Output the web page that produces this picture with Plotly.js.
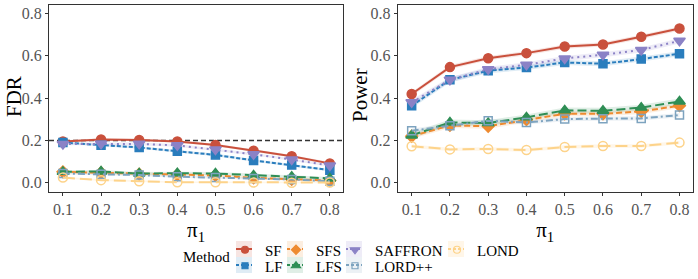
<!DOCTYPE html>
<html>
<head>
<meta charset="utf-8">
<script src="https://cdn.plot.ly/plotly-3.0.1.min.js"></script>
<style>html,body{margin:0;padding:0;background:#fff;}#chart{width:698px;height:279px;}</style>
</head>
<body>
<div id="chart"></div>
<script>
// ---------- data ----------
const pi1 = [0.1, 0.2, 0.3, 0.4, 0.5, 0.6, 0.7, 0.8];
const methods = ["SF", "LF", "SFS", "LFS", "SAFFRON", "LORD++", "LOND"];
const fdrTarget = 0.2;

const fdrSF      = [0.195, 0.205, 0.202, 0.195, 0.179, 0.152, 0.126, 0.092];
const fdrLF      = [0.190, 0.178, 0.167, 0.149, 0.132, 0.106, 0.084, 0.060];
const fdrSFS     = [0.052, 0.048, 0.041, 0.038, 0.035, 0.024, 0.017, 0.011];
const fdrLFS     = [0.052, 0.054, 0.044, 0.046, 0.044, 0.035, 0.029, 0.021];
const fdrSAFFRON = [0.183, 0.185, 0.184, 0.177, 0.157, 0.135, 0.110, 0.082];
const fdrLORDpp  = [0.044, 0.041, 0.037, 0.029, 0.025, 0.021, 0.016, 0.008];
const fdrLOND    = [0.025, 0.013, 0.008, 0.003, 0.003, 0.002, 0.001, 0.002];

const powSF      = [0.419, 0.546, 0.588, 0.612, 0.643, 0.653, 0.689, 0.728];
const powLF      = [0.364, 0.486, 0.529, 0.544, 0.568, 0.562, 0.584, 0.609];
const powSFS     = [0.220, 0.271, 0.267, 0.298, 0.326, 0.326, 0.337, 0.364];
const powLFS     = [0.224, 0.285, 0.282, 0.309, 0.342, 0.340, 0.355, 0.384];
const powSAFFRON = [0.380, 0.486, 0.536, 0.557, 0.587, 0.604, 0.627, 0.670];
const powLORDpp  = [0.246, 0.270, 0.293, 0.285, 0.301, 0.303, 0.304, 0.320];
const powLOND    = [0.173, 0.158, 0.160, 0.155, 0.169, 0.174, 0.174, 0.190];

// half-width of the shaded confidence band (estimated), per method
const bandFDR   = [0.006, 0.006, 0.006, 0.007, 0.006, 0.005, 0.004];
const bandPower = [0.010, 0.012, 0.012, 0.014, 0.012, 0.010, 0.008];

const xTicks = ["0.1","0.2","0.3","0.4","0.5","0.6","0.7","0.8"];
const yTicks = [0.0, 0.2, 0.4, 0.6, 0.8];
const yTitles = ["FDR", "Power"];
const xTitle = "π<sub>1</sub>";
const legendTitle = "Method";

// ---------- styles ----------
const fdrData = [fdrSF, fdrLF, fdrSFS, fdrLFS, fdrSAFFRON, fdrLORDpp, fdrLOND];
const powData = [powSF, powLF, powSFS, powLFS, powSAFFRON, powLORDpp, powLOND];
const colors = ["#c9503c", "#2a7dbd", "#ee8a2f", "#2f8e55", "#8b82c6", "#7da3bf", "#fdd38a"];
const bands  = ["rgba(201,80,60,0.15)", "rgba(42,125,189,0.15)", "rgba(238,138,47,0.15)",
                "rgba(47,142,85,0.15)", "rgba(139,130,198,0.15)", "rgba(125,163,191,0.15)", "rgba(253,211,138,0.2)"];
const symbols = ["circle", "square", "diamond", "triangle-up", "triangle-down", "square-open", "circle-open"];
const msizes  = [9, 8, 9, 10, 10, 8, 9];
const dashes  = ["solid", "4px,2px", "6px,3px", "9px,4px", "2px,4px", "7px,3px,2px,3px", "12px,5px"];
// legend placement (symbol centre px, row px)
const legX = [244, 244, 295, 295, 354, 354, 456];
const legY = [249, 265, 249, 265, 249, 265, 249];

const W = 698, H = 279, MT = 5, MB = 87;
const PH = H - MT - MB;
const serif = "Liberation Serif, Times New Roman, Times, serif";
const px = v => v / W;
const py = v => (H - MB - v) / PH;

const traces = [];
function addPanel(data, band, xa, ya) {
  data.forEach((vals, i) => {
    const lo = vals.map(v => v - band[i]);
    const hi = vals.map(v => v + band[i]);
    traces.push({x: pi1, y: lo, xaxis: xa, yaxis: ya, mode: "lines", line: {width: 0, color: bands[i]},
      showlegend: false, hoverinfo: "skip"});
    traces.push({x: pi1, y: hi, xaxis: xa, yaxis: ya, mode: "lines", line: {width: 0, color: bands[i]},
      fill: "tonexty", fillcolor: bands[i], showlegend: false, hoverinfo: "skip"});
  });
  data.forEach((vals, i) => {
    traces.push({
      x: pi1, y: vals, xaxis: xa, yaxis: ya, name: methods[i], mode: "lines+markers",
      line: {color: colors[i], width: 2, dash: dashes[i]},
      marker: {symbol: symbols[i], size: msizes[i], color: colors[i], line: {color: colors[i], width: 1.5}},
      showlegend: false
    });
  });
}
addPanel(fdrData, bandFDR, "x", "y");
addPanel(powData, bandPower, "x2", "y2");

// legend-only entries (marker in key; key line drawn as a short shape)
methods.forEach((m, i) => {
  traces.push({x: [null], y: [null], name: m, mode: "markers",
    marker: {symbol: symbols[i], size: msizes[i] - 2, color: colors[i], line: {color: colors[i], width: 1.2}},
    showlegend: true, legend: i === 0 ? "legend" : "legend" + (i + 1), hoverinfo: "skip"});
});

const axisBase = {
  showline: true, mirror: true, linecolor: "#333", linewidth: 1,
  ticks: "outside", ticklen: 3, tickcolor: "#333", tickwidth: 1,
  showgrid: false, zeroline: false,
  tickfont: {family: serif, size: 16, color: "#555"}
};
const xAxis = (dom, anchor) => Object.assign({}, axisBase, {
  domain: dom, anchor: anchor, range: [0.0635, 0.8345],
  tickmode: "array", tickvals: pi1, ticktext: xTicks,
  title: {text: xTitle, font: {family: serif, size: 21, color: "#000"}, standoff: 2}
});
const yAxis = (anchor) => Object.assign({}, axisBase, {
  anchor: anchor, domain: [0, 1], range: [-0.043, 0.839],
  tickmode: "array", tickvals: yTicks, ticktext: yTicks.map(v => v.toFixed(1))
});

const layout = {
  width: W, height: H,
  margin: {l: 0, r: 0, t: MT, b: MB, autoexpand: false},
  paper_bgcolor: "#fff", plot_bgcolor: "#fff",
  font: {family: serif, size: 15, color: "#000"},
  xaxis: xAxis([px(49), px(343)], "y"),
  yaxis: yAxis("x"),
  xaxis2: xAxis([px(397.7), px(692.7)], "y2"),
  yaxis2: yAxis("x2"),
  shapes: [{type: "line", xref: "x domain", yref: "y", x0: 0, x1: 1, y0: fdrTarget, y1: fdrTarget,
            line: {color: "#333", width: 1.5, dash: "5px,3px"}, layer: "below"}],
  annotations: [
    {xref: "paper", yref: "paper", x: px(206), y: py(257), xanchor: "center", yanchor: "middle",
     text: legendTitle, showarrow: false, font: {family: serif, size: 15, color: "#000"}},
    {xref: "paper", yref: "paper", x: px(14), y: py(97), xanchor: "center", yanchor: "middle", textangle: -90,
     text: yTitles[0], showarrow: false, font: {family: serif, size: 21, color: "#000"}},
    {xref: "paper", yref: "paper", x: px(360), y: py(95), xanchor: "center", yanchor: "middle", textangle: -90,
     text: yTitles[1], showarrow: false, font: {family: serif, size: 21, color: "#000"}}
  ]
};
methods.forEach((m, i) => {
  const key = i === 0 ? "legend" : "legend" + (i + 1);
  layout[key] = {
    x: px(legX[i] - 19), y: py(legY[i] + 1), xanchor: "left", yanchor: "middle",
    bgcolor: "rgba(0,0,0,0)", borderwidth: 0, itemwidth: 30, itemclick: false,
    font: {family: serif, size: 15, color: "#000"}
  };
  layout.shapes.push({type: "rect", xref: "paper", yref: "paper",
    x0: px(legX[i] - 8), x1: px(legX[i] + 8), y0: py(legY[i] + 8), y1: py(legY[i] - 8),
    fillcolor: bands[i], line: {width: 0}, layer: "below"});
  layout.shapes.push({type: "line", xref: "paper", yref: "paper",
    x0: px(legX[i] - 8), x1: px(legX[i] + 8), y0: py(legY[i]), y1: py(legY[i]),
    line: {color: colors[i], width: 2, dash: i === 4 ? "2px,2px" : (i === 0 ? "solid" : "3px,2px")}, layer: "below"});
});

Plotly.newPlot("chart", traces, layout, {displayModeBar: false, staticPlot: true});
</script>
</body>
</html>
